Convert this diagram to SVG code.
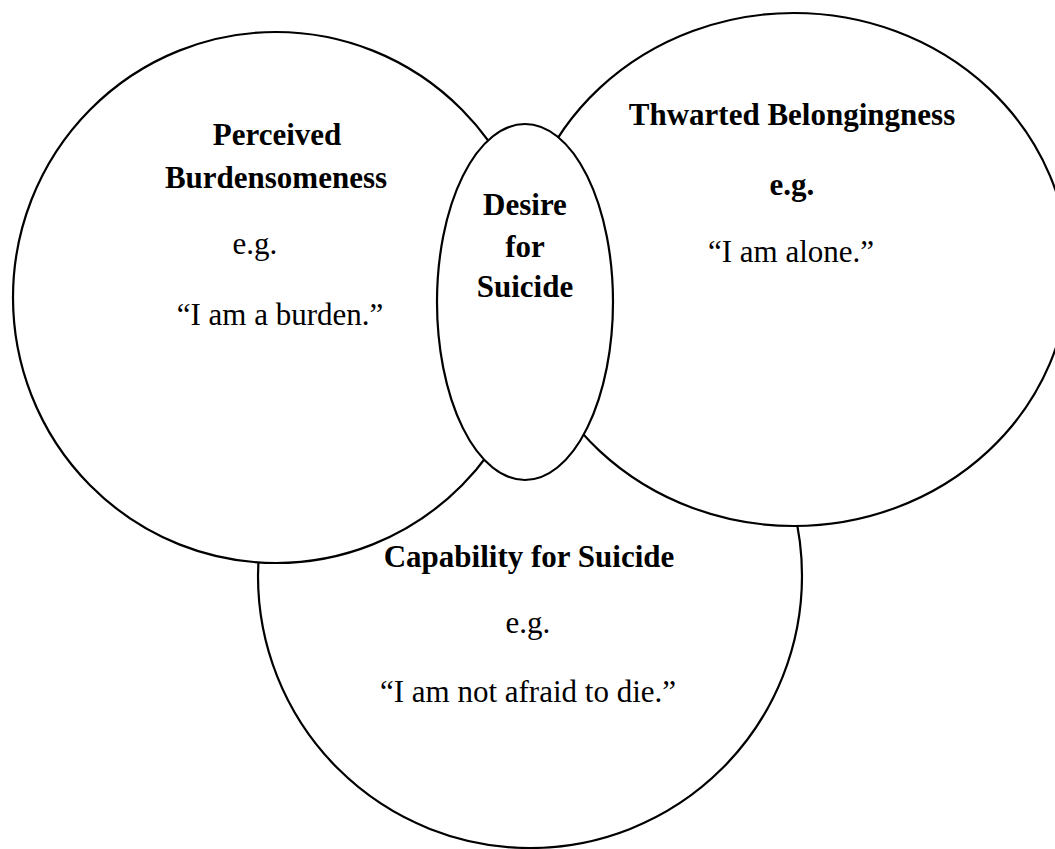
<svg xmlns="http://www.w3.org/2000/svg" width="1055" height="849" viewBox="0 0 1055 849">
  <style>
    .shape { fill: #ffffff; stroke: #000000; stroke-width: 2.2; }
    .t { font-family: "Liberation Serif", "Times New Roman", serif; font-size: 31px; fill: #000000; text-anchor: middle; }
    .b { font-weight: bold; }
  </style>
  <rect x="0" y="0" width="1055" height="849" fill="#ffffff"/>
  <g id="capability">
    <circle class="shape" cx="530" cy="576" r="272"/>
    <text class="t b" x="529" y="567">Capability for Suicide</text>
    <text class="t" x="528" y="633">e.g.</text>
    <text class="t" x="528" y="702">“I am not afraid to die.”</text>
  </g>
  <g id="burdensomeness">
    <ellipse class="shape" cx="276" cy="297.5" rx="263" ry="265.5"/>
    <text class="t b" x="277" y="145">Perceived</text>
    <text class="t b" x="276" y="188">Burdensomeness</text>
    <text class="t" x="255" y="254">e.g.</text>
    <text class="t" x="280" y="325">“I am a burden.”</text>
  </g>
  <g id="belongingness">
    <ellipse class="shape" cx="794" cy="269.5" rx="275" ry="256.5"/>
    <text class="t b" x="792" y="125">Thwarted Belongingness</text>
    <text class="t b" x="792" y="195">e.g.</text>
    <text class="t" x="791" y="262">“I am alone.”</text>
  </g>
  <g id="desire">
    <ellipse class="shape" cx="525" cy="302" rx="88" ry="178"/>
    <text class="t b" x="525" y="215">Desire</text>
    <text class="t b" x="525" y="257">for</text>
    <text class="t b" x="525" y="297">Suicide</text>
  </g>
</svg>
